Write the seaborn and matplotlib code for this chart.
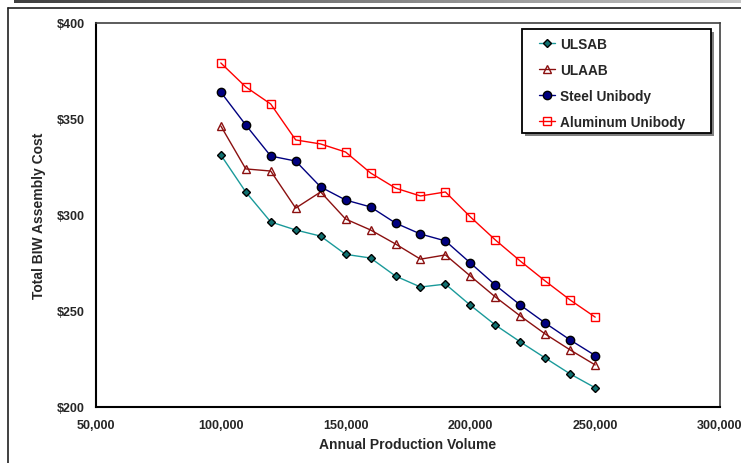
import numpy as np
import pandas as pd
import seaborn as sns
import matplotlib.pyplot as plt
from matplotlib.lines import Line2D
from matplotlib.patches import Rectangle

volume = [100000, 110000, 120000, 130000, 140000, 150000, 160000, 170000,
          180000, 190000, 200000, 210000, 220000, 230000, 240000, 250000]
ulsab = [331.3, 312.0, 296.4, 292.2, 289.0, 279.5, 277.6, 268.2,
         262.5, 264.0, 253.0, 242.7, 233.9, 225.5, 217.2, 210.0]
ulaab = [346.4, 324.0, 322.9, 303.6, 312.0, 297.9, 292.2, 284.9,
         277.0, 279.2, 268.2, 257.3, 247.4, 238.0, 229.7, 221.9]
steel_unibody = [364.0, 346.9, 330.7, 328.1, 314.6, 307.8, 304.2, 295.8,
                 290.1, 286.5, 275.0, 263.5, 253.1, 243.7, 234.9, 226.8]
alu_unibody = [379.2, 366.7, 357.8, 339.1, 337.0, 332.8, 321.9, 314.0,
               309.9, 312.0, 299.0, 287.0, 276.0, 265.6, 255.7, 246.8]

series_names = ['ULSAB', 'ULAAB', 'Steel Unibody', 'Aluminum Unibody']
x_ticks = [50000, 100000, 150000, 200000, 250000, 300000]
y_ticks = [200, 250, 300, 350, 400]

df = pd.DataFrame({'volume': volume * 4,
                   'cost': ulsab + ulaab + steel_unibody + alu_unibody,
                   'serie': np.repeat(series_names, len(volume))})

# estilo de cada série (cor da linha, marcador, face, borda, tamanho)
estilos = {
    'ULSAB': dict(color='#1a9a9a', marker='D', mfc='#107070', mec='black', ms=4.2),
    'ULAAB': dict(color='#8b1010', marker='^', mfc='none', mec='#8b1010', ms=6),
    'Steel Unibody': dict(color='#000080', marker='o', mfc='#000080', mec='black', ms=6),
    'Aluminum Unibody': dict(color='#ff0000', marker='s', mfc='none', mec='#ff0000', ms=5.5),
}

sns.set_style('white')
plt.rcParams['font.family'] = ['Liberation Sans', 'DejaVu Sans']
plt.rcParams['font.weight'] = 'bold'

W, H = 741, 464
fig = plt.figure(figsize=(W / 100, H / 100), dpi=100)
ax = fig.add_axes([96 / W, 1 - 408 / H, 624 / W, 384 / H])

for nome in series_names:
    e = estilos[nome]
    sns.lineplot(data=df[df['serie'] == nome], x='volume', y='cost', ax=ax,
                 color=e['color'], marker=e['marker'], markersize=e['ms'],
                 markerfacecolor=e['mfc'], markeredgecolor=e['mec'],
                 markeredgewidth=1.0, linewidth=1.0, label=nome)

ax.set_xlim(50000, 300000)
ax.set_ylim(200, 400)
ax.set_xticks(x_ticks)
ax.set_yticks(y_ticks)
ax.set_xticklabels([f'{v:,}' for v in x_ticks], fontsize=9, fontweight='bold')
ax.set_yticklabels([f'${v}' for v in y_ticks], fontsize=9, fontweight='bold')
ax.tick_params(axis='both', direction='in', length=5, width=1, color='black')
ax.tick_params(axis='y', pad=8)
ax.tick_params(axis='x', pad=9)
ax.set_xlabel('Annual Production Volume', fontsize=10, fontweight='bold', labelpad=4)
ax.set_ylabel('Total BIW Assembly Cost', fontsize=10, fontweight='bold', labelpad=8)

for lado in ['left', 'bottom']:
    ax.spines[lado].set_color('black')
    ax.spines[lado].set_linewidth(1.5)
for lado in ['top', 'right']:
    ax.spines[lado].set_color('#404040')
    ax.spines[lado].set_linewidth(1.2)

# legenda sem moldura + caixa com sombra desenhada à parte
leg = ax.legend(loc='upper left', bbox_to_anchor=(539 / W, 1 - 38 / H),
                bbox_transform=fig.transFigure, frameon=False,
                prop={'weight': 'bold', 'size': 9.8}, labelspacing=0.88,
                handlelength=1.15, borderpad=0, handletextpad=0.38, borderaxespad=0)
leg.set_zorder(10)
ax.add_artist(Rectangle((525 / W, 1 - 137 / H), 189 / W, 104 / H,
                        transform=fig.transFigure, facecolor='#808080',
                        edgecolor='none', zorder=8, clip_on=False))
ax.add_artist(Rectangle((522 / W, 1 - 134 / H), 189 / W, 104 / H,
                        transform=fig.transFigure, facecolor='white',
                        edgecolor='black', linewidth=1.3, zorder=9, clip_on=False))

# faixa cinza no topo e moldura externa
barra = fig.add_axes([14 / W, 1 - 4 / H, 1 - 14 / W, 4 / H])
barra.imshow(np.linspace(0.25, 0.78, 256).reshape(1, -1), aspect='auto',
             cmap='gray', vmin=0, vmax=1)
barra.axis('off')
fig.add_artist(Line2D([8 / W, 8 / W], [0, 1 - 9 / H], color='#202020', lw=1.2))
fig.add_artist(Line2D([8 / W, 1], [1 - 9 / H, 1 - 9 / H], color='#202020', lw=1.2))

fig.savefig('out.png', dpi=100)
